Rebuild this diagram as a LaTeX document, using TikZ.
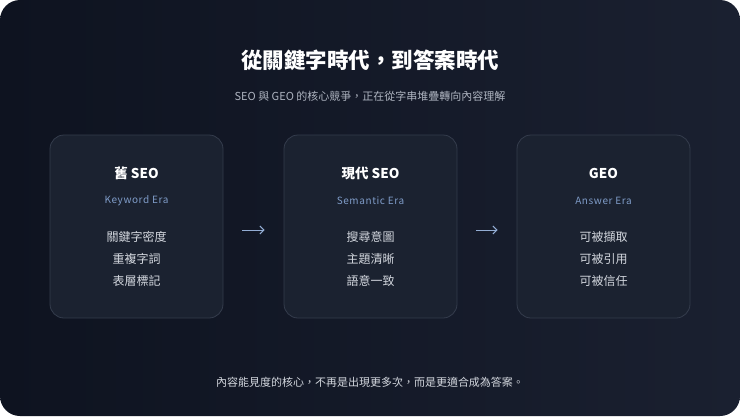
\documentclass[tikz,border=0pt]{standalone}
\usepackage{fontspec}
\setmainfont{Noto Sans CJK TC}
\newfontfamily\erafont[LetterSpace=6]{Noto Sans CJK TC}
\usetikzlibrary{arrows.meta}
\definecolor{bgA}{HTML}{0E1320}
\definecolor{bgB}{HTML}{1A2030}
\definecolor{boxfill}{HTML}{1B2230}
\definecolor{boxline}{HTML}{343C4C}
\definecolor{era}{HTML}{7F9CC8}
\definecolor{item}{HTML}{D3D7DE}
\definecolor{sub}{HTML}{AEB4C0}
\definecolor{arr}{HTML}{93ADD4}
\tikzset{
 card/.style={draw=boxline, line width=0.8pt, fill=boxfill, rounded corners=14pt, minimum width=173pt, minimum height=183pt, inner sep=0pt},
 ctitle/.style={text=white, font=\fontsize{13.5}{15}\selectfont\bfseries},
 cera/.style={text=era, font=\erafont\fontsize{10}{12}\selectfont},
 citem/.style={text=item, font=\fontsize{12}{14}\selectfont},
 conn/.style={draw=arr, line width=1pt, -{Straight Barb[length=4pt,width=8pt]}, shorten <=19pt, shorten >=19pt},
}
\begin{document}
\begin{tikzpicture}[x=1pt,y=-1pt]
\useasboundingbox (0,0) rectangle (740,416);
\fill[white] (0,0) rectangle (740,416);
\shade[left color=bgA, right color=bgB, rounded corners=20pt] (0,0) rectangle (740,416);
\node[text=white, font=\fontsize{21.5}{24}\selectfont\bfseries] (title) at (370,60) {從關鍵字時代，到答案時代};
\node[text=sub, font=\fontsize{11}{13}\selectfont] (subt) at (370,96) {SEO 與 GEO 的核心競爭，正在從字串堆疊轉向內容理解};
\foreach \n/\x/\t/\e/\a/\b/\c in {b1/136.5/舊 SEO/Keyword Era/關鍵字密度/重複字詞/表層標記, b2/370.5/現代 SEO/Semantic Era/搜尋意圖/主題清晰/語意一致, b3/603.5/GEO/Answer Era/可被擷取/可被引用/可被信任}{
 \node[card] (\n) at (\x,226.5) {};
 \node[ctitle] (\n t) at (\x,173) {\t};
 \node[cera] (\n e) at (\x,201) {\e};
 \node[citem] (\n a) at (\x,237) {\a};
 \node[citem] (\n b) at (\x,259) {\b};
 \node[citem] (\n c) at (\x,281) {\c};
}
\draw[conn] ([yshift=-3.5pt]b1.east) -- ([yshift=-3.5pt]b2.west);
\draw[conn] ([yshift=-3.5pt]b2.east) -- ([yshift=-3.5pt]b3.west);
\node[text=item, font=\fontsize{11}{13}\selectfont] (foot) at (370,382) {內容能見度的核心，不再是出現更多次，而是更適合成為答案。};
\end{tikzpicture}
\end{document}
